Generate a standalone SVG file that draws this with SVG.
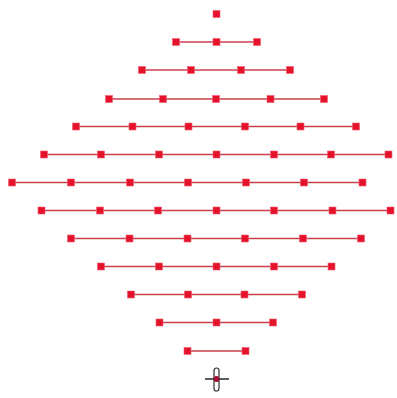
<svg xmlns="http://www.w3.org/2000/svg" xmlns:xlink="http://www.w3.org/1999/xlink" width="397" height="398" viewBox="0 0 397 398">
<style>
.e{stroke:#c8404e;stroke-width:1.4;fill:none}
.n{fill:#e5122b;stroke:#f06070;stroke-width:0.6}
</style>
<defs>
<rect id="sq" class="n" x="-3.5" y="-3.5" width="7" height="7"/>
</defs>
<rect width="397" height="398" fill="#ffffff"/>
<g id="connectors">
<line class="e" x1="176" y1="42" x2="257" y2="42"/>
<line class="e" x1="142" y1="70" x2="290" y2="70"/>
<line class="e" x1="109" y1="99" x2="324" y2="99"/>
<line class="e" x1="76" y1="126.5" x2="356" y2="126.5"/>
<line class="e" x1="44" y1="154.5" x2="388.5" y2="154.5"/>
<line class="e" x1="12" y1="182.5" x2="362.5" y2="182.5"/>
<line class="e" x1="41.5" y1="210.5" x2="390.5" y2="210.5"/>
<line class="e" x1="71" y1="238.5" x2="361" y2="238.5"/>
<line class="e" x1="101" y1="266.5" x2="331.5" y2="266.5"/>
<line class="e" x1="131" y1="294.5" x2="302" y2="294.5"/>
<line class="e" x1="159.5" y1="322.5" x2="273" y2="322.5"/>
<line class="e" x1="187.5" y1="351" x2="245.5" y2="351"/>
</g>
<g id="r0"><g id="n0_0"><use xlink:href="#sq" x="216.5" y="14"/></g></g>
<g id="r1">
<g id="n1_0"><use xlink:href="#sq" x="176" y="42"/></g>
<g id="n1_1"><use xlink:href="#sq" x="216.5" y="42"/></g>
<g id="n1_2"><use xlink:href="#sq" x="257" y="42"/></g>
</g>
<g id="r2">
<g id="n2_0"><use xlink:href="#sq" x="142" y="70"/></g>
<g id="n2_1"><use xlink:href="#sq" x="191" y="70"/></g>
<g id="n2_2"><use xlink:href="#sq" x="241" y="70"/></g>
<g id="n2_3"><use xlink:href="#sq" x="290" y="70"/></g>
</g>
<g id="r3">
<g id="n3_0"><use xlink:href="#sq" x="109" y="99"/></g>
<g id="n3_1"><use xlink:href="#sq" x="163" y="99"/></g>
<g id="n3_2"><use xlink:href="#sq" x="216" y="99"/></g>
<g id="n3_3"><use xlink:href="#sq" x="270.5" y="99"/></g>
<g id="n3_4"><use xlink:href="#sq" x="324" y="99"/></g>
</g>
<g id="r4">
<g id="n4_0"><use xlink:href="#sq" x="76" y="126.5"/></g>
<g id="n4_1"><use xlink:href="#sq" x="132.5" y="126.5"/></g>
<g id="n4_2"><use xlink:href="#sq" x="188.5" y="126.5"/></g>
<g id="n4_3"><use xlink:href="#sq" x="245" y="126.5"/></g>
<g id="n4_4"><use xlink:href="#sq" x="300.5" y="126.5"/></g>
<g id="n4_5"><use xlink:href="#sq" x="356" y="126.5"/></g>
</g>
<g id="r5">
<g id="n5_0"><use xlink:href="#sq" x="44" y="154.5"/></g>
<g id="n5_1"><use xlink:href="#sq" x="101" y="154.5"/></g>
<g id="n5_2"><use xlink:href="#sq" x="159" y="154.5"/></g>
<g id="n5_3"><use xlink:href="#sq" x="216.5" y="154.5"/></g>
<g id="n5_4"><use xlink:href="#sq" x="274" y="154.5"/></g>
<g id="n5_5"><use xlink:href="#sq" x="331" y="154.5"/></g>
<g id="n5_6"><use xlink:href="#sq" x="388.5" y="154.5"/></g>
</g>
<g id="r6">
<g id="n6_0"><use xlink:href="#sq" x="12" y="182.5"/></g>
<g id="n6_1"><use xlink:href="#sq" x="71" y="182.5"/></g>
<g id="n6_2"><use xlink:href="#sq" x="130" y="182.5"/></g>
<g id="n6_3"><use xlink:href="#sq" x="188" y="182.5"/></g>
<g id="n6_4"><use xlink:href="#sq" x="246" y="182.5"/></g>
<g id="n6_5"><use xlink:href="#sq" x="304" y="182.5"/></g>
<g id="n6_6"><use xlink:href="#sq" x="362.5" y="182.5"/></g>
</g>
<g id="r7">
<g id="n7_0"><use xlink:href="#sq" x="41.5" y="210.5"/></g>
<g id="n7_1"><use xlink:href="#sq" x="100" y="210.5"/></g>
<g id="n7_2"><use xlink:href="#sq" x="158" y="210.5"/></g>
<g id="n7_3"><use xlink:href="#sq" x="216.5" y="210.5"/></g>
<g id="n7_4"><use xlink:href="#sq" x="274" y="210.5"/></g>
<g id="n7_5"><use xlink:href="#sq" x="332.5" y="210.5"/></g>
<g id="n7_6"><use xlink:href="#sq" x="390.5" y="210.5"/></g>
</g>
<g id="r8">
<g id="n8_0"><use xlink:href="#sq" x="71" y="238.5"/></g>
<g id="n8_1"><use xlink:href="#sq" x="129.5" y="238.5"/></g>
<g id="n8_2"><use xlink:href="#sq" x="187.5" y="238.5"/></g>
<g id="n8_3"><use xlink:href="#sq" x="245" y="238.5"/></g>
<g id="n8_4"><use xlink:href="#sq" x="303" y="238.5"/></g>
<g id="n8_5"><use xlink:href="#sq" x="361" y="238.5"/></g>
</g>
<g id="r9">
<g id="n9_0"><use xlink:href="#sq" x="101" y="266.5"/></g>
<g id="n9_1"><use xlink:href="#sq" x="159" y="266.5"/></g>
<g id="n9_2"><use xlink:href="#sq" x="216.5" y="266.5"/></g>
<g id="n9_3"><use xlink:href="#sq" x="274" y="266.5"/></g>
<g id="n9_4"><use xlink:href="#sq" x="331.5" y="266.5"/></g>
</g>
<g id="r10">
<g id="n10_0"><use xlink:href="#sq" x="131" y="294.5"/></g>
<g id="n10_1"><use xlink:href="#sq" x="188" y="294.5"/></g>
<g id="n10_2"><use xlink:href="#sq" x="244.5" y="294.5"/></g>
<g id="n10_3"><use xlink:href="#sq" x="302" y="294.5"/></g>
</g>
<g id="r11">
<g id="n11_0"><use xlink:href="#sq" x="159.5" y="322.5"/></g>
<g id="n11_1"><use xlink:href="#sq" x="216.5" y="322.5"/></g>
<g id="n11_2"><use xlink:href="#sq" x="273" y="322.5"/></g>
</g>
<g id="r12">
<g id="n12_0"><use xlink:href="#sq" x="187.5" y="351"/></g>
<g id="n12_1"><use xlink:href="#sq" x="245.5" y="351"/></g>
</g>
<g id="cursor">
<line x1="205" y1="379" x2="229" y2="379" stroke="#333333" stroke-width="1.6"/>
<rect x="214" y="368" width="5" height="23" rx="2.5" fill="#ffffff" stroke="#333333" stroke-width="1.2"/>
<circle cx="216.5" cy="379" r="3" fill="#a01030"/>
</g>
</svg>
